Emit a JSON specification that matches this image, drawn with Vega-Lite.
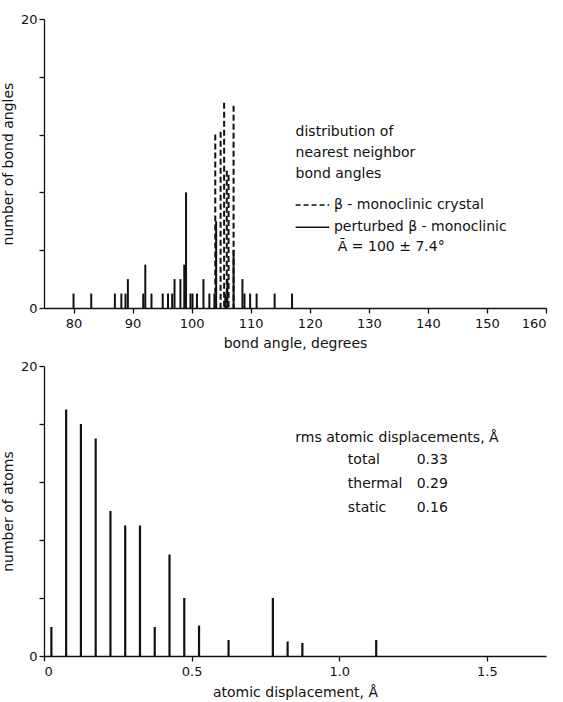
{
  "$schema": "https://vega.github.io/schema/vega-lite/v6.json",
  "padding": {"left": 1, "top": 13, "right": 5, "bottom": 5},
  "background": "white",
  "config": {
    "view": {"stroke": null},
    "font": "DejaVu Sans",
    "axis": {
      "grid": false,
      "ticks": true,
      "domainColor": "#111",
      "tickColor": "#111",
      "labelColor": "#111",
      "titleColor": "#111",
      "labelFont": "DejaVu Sans",
      "titleFont": "DejaVu Sans",
      "labelFontSize": 13,
      "titleFontSize": 14,
      "titleFontWeight": "normal",
      "domainWidth": 1.3,
      "tickWidth": 1.3
    },
    "text": {"font": "DejaVu Sans", "fontSize": 14, "color": "#111"}
  },
  "spacing": 10,
  "datasets": {
    "angles": [
      {"angle": 80, "count": 1, "series": "perturbed"},
      {"angle": 83, "count": 1, "series": "perturbed"},
      {"angle": 87, "count": 1, "series": "perturbed"},
      {"angle": 88.1, "count": 1, "series": "perturbed"},
      {"angle": 88.8, "count": 1, "series": "perturbed"},
      {"angle": 89.2, "count": 2, "series": "perturbed"},
      {"angle": 91.8, "count": 1, "series": "perturbed"},
      {"angle": 92.15, "count": 3, "series": "perturbed"},
      {"angle": 93.2, "count": 1, "series": "perturbed"},
      {"angle": 95.1, "count": 1, "series": "perturbed"},
      {"angle": 96, "count": 1, "series": "perturbed"},
      {"angle": 96.7, "count": 1, "series": "perturbed"},
      {"angle": 97.1, "count": 2, "series": "perturbed"},
      {"angle": 98.1, "count": 2, "series": "perturbed"},
      {"angle": 98.75, "count": 3, "series": "perturbed"},
      {"angle": 99.05, "count": 8, "series": "perturbed"},
      {"angle": 99.8, "count": 1, "series": "perturbed"},
      {"angle": 100.15, "count": 1, "series": "perturbed"},
      {"angle": 100.9, "count": 1, "series": "perturbed"},
      {"angle": 102, "count": 2, "series": "perturbed"},
      {"angle": 103, "count": 1, "series": "perturbed"},
      {"angle": 103.85, "count": 1, "series": "perturbed"},
      {"angle": 104.15, "count": 6, "series": "perturbed"},
      {"angle": 105.7, "count": 1, "series": "perturbed"},
      {"angle": 106.05, "count": 2, "series": "perturbed"},
      {"angle": 107.1, "count": 4, "series": "perturbed"},
      {"angle": 108.6, "count": 2, "series": "perturbed"},
      {"angle": 108.95, "count": 1, "series": "perturbed"},
      {"angle": 109.9, "count": 1, "series": "perturbed"},
      {"angle": 111, "count": 1, "series": "perturbed"},
      {"angle": 114.05, "count": 1, "series": "perturbed"},
      {"angle": 117, "count": 1, "series": "perturbed"},
      {"angle": 104.0, "count": 12, "series": "crystal"},
      {"angle": 104.9, "count": 12.2, "series": "crystal"},
      {"angle": 105.5, "count": 14.2, "series": "crystal"},
      {"angle": 105.95, "count": 9.5, "series": "crystal"},
      {"angle": 106.25, "count": 9.2, "series": "crystal"},
      {"angle": 107.1, "count": 14.0, "series": "crystal"}
    ],
    "keyTop": [
      {"x1": 117.6, "x2": 123.3, "y": 7.13, "series": "crystal"},
      {"x1": 117.6, "x2": 123.3, "y": 5.58, "series": "perturbed"}
    ],
    "notesTop": [
      {"x": 117.6, "y": 12.2, "text": "distribution of"},
      {"x": 117.6, "y": 10.73, "text": "nearest neighbor"},
      {"x": 117.6, "y": 9.25, "text": "bond angles"},
      {"x": 124.1, "y": 7.13, "text": "β - monoclinic crystal"},
      {"x": 124.1, "y": 5.58, "text": "perturbed β - monoclinic"},
      {"x": 124.75, "y": 4.24, "text": "Ā = 100 ± 7.4°"}
    ],
    "displacements": [
      {"disp": 0.025, "count": 2},
      {"disp": 0.075, "count": 17},
      {"disp": 0.125, "count": 16},
      {"disp": 0.175, "count": 15},
      {"disp": 0.225, "count": 10},
      {"disp": 0.275, "count": 9},
      {"disp": 0.325, "count": 9},
      {"disp": 0.375, "count": 2},
      {"disp": 0.425, "count": 7},
      {"disp": 0.475, "count": 4},
      {"disp": 0.525, "count": 2.1},
      {"disp": 0.625, "count": 1.1},
      {"disp": 0.775, "count": 4},
      {"disp": 0.825, "count": 1},
      {"disp": 0.875, "count": 0.9},
      {"disp": 1.125, "count": 1.1}
    ],
    "notesBottom": [
      {"x": 0.851, "y": 15.06, "text": "rms atomic displacements, Å"},
      {"x": 1.029, "y": 13.54, "text": "total"},
      {"x": 1.029, "y": 11.89, "text": "thermal"},
      {"x": 1.029, "y": 10.23, "text": "static"},
      {"x": 1.262, "y": 13.54, "text": "0.33"},
      {"x": 1.262, "y": 11.89, "text": "0.29"},
      {"x": 1.262, "y": 10.23, "text": "0.16"}
    ]
  },
  "vconcat": [
    {
      "width": 502,
      "height": 289,
      "layer": [
        {
          "data": {"name": "angles"},
          "transform": [{"filter": "datum.series == 'perturbed'"}],
          "mark": {"type": "rule", "strokeWidth": 2, "color": "#111"},
          "encoding": {
            "x": {
              "field": "angle", "type": "quantitative",
              "scale": {"domain": [75, 160], "nice": false, "zero": false},
              "axis": {"values": [80, 90, 100, 110, 120, 130, 140, 150, 160], "title": "bond angle, degrees", "tickSize": 5, "labelPadding": 4, "titlePadding": 6}
            },
            "y": {
              "field": "count", "type": "quantitative",
              "scale": {"domain": [0, 20], "nice": false},
              "axis": {"values": [0, 2, 4, 6, 8, 10, 12, 14, 16, 18, 20], "labelExpr": "datum.value % 10 == 0 ? datum.label : ''", "title": "number of bond angles", "tickSize": 5, "labelPadding": 2, "titlePadding": 5}
            },
            "y2": {"datum": 0}
          }
        },
        {
          "data": {"name": "angles"},
          "transform": [{"filter": "datum.series == 'crystal'"}],
          "mark": {"type": "rule", "strokeWidth": 2, "color": "#111", "strokeDash": [6, 3]},
          "encoding": {
            "x": {"field": "angle", "type": "quantitative"},
            "y": {"field": "count", "type": "quantitative"},
            "y2": {"datum": 0}
          }
        },
        {
          "data": {"name": "keyTop"},
          "mark": {"type": "rule", "strokeWidth": 1.5, "color": "#111"},
          "encoding": {
            "x": {"field": "x1", "type": "quantitative"},
            "x2": {"field": "x2"},
            "y": {"field": "y", "type": "quantitative"},
            "strokeDash": {"field": "series", "type": "nominal", "scale": {"domain": ["crystal", "perturbed"], "range": [[5, 3], [1, 0]]}, "legend": null}
          }
        },
        {
          "data": {"name": "notesTop"},
          "mark": {"type": "text", "align": "left", "baseline": "middle"},
          "encoding": {
            "x": {"field": "x", "type": "quantitative"},
            "y": {"field": "y", "type": "quantitative"},
            "text": {"field": "text"}
          }
        }
      ]
    },
    {
      "width": 502,
      "height": 290,
      "layer": [
        {
          "data": {"name": "displacements"},
          "mark": {"type": "rule", "strokeWidth": 2.2, "color": "#111"},
          "encoding": {
            "x": {
              "field": "disp", "type": "quantitative",
              "scale": {"domain": [0, 1.7], "nice": false},
              "axis": {"values": [0, 0.5, 1, 1.5], "labelExpr": "datum.value == 0 ? '0' : format(datum.value, '.1f')", "title": "atomic displacement, Å", "tickSize": 5, "labelPadding": 4, "titlePadding": 7}
            },
            "y": {
              "field": "count", "type": "quantitative",
              "scale": {"domain": [0, 20], "nice": false},
              "axis": {"values": [0, 2, 4, 6, 8, 10, 12, 14, 16, 18, 20], "labelExpr": "datum.value % 10 == 0 ? datum.label : ''", "title": "number of atoms", "tickSize": 5, "labelPadding": 2, "titlePadding": 5}
            },
            "y2": {"datum": 0}
          }
        },
        {
          "data": {"name": "notesBottom"},
          "mark": {"type": "text", "align": "left", "baseline": "middle"},
          "encoding": {
            "x": {"field": "x", "type": "quantitative"},
            "y": {"field": "y", "type": "quantitative"},
            "text": {"field": "text"}
          }
        }
      ]
    }
  ]
}
